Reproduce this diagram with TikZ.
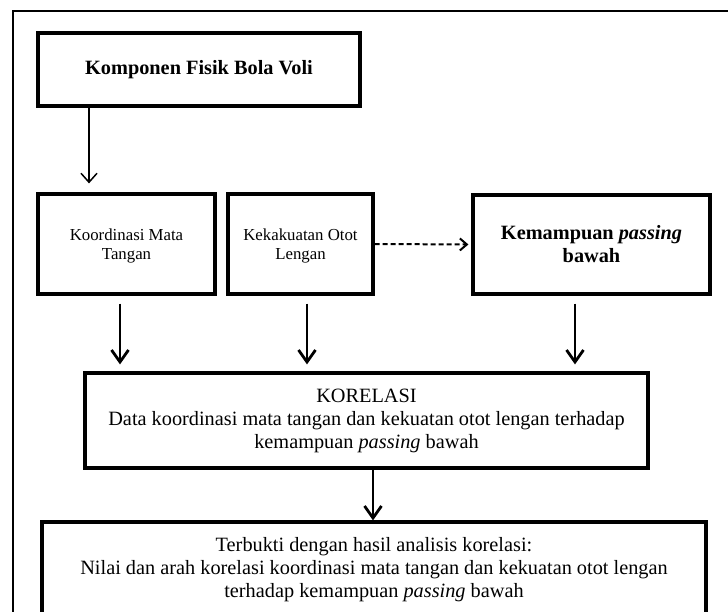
\documentclass[tikz,border=0pt]{standalone}
\usepackage{fontspec}
\setmainfont{Liberation Serif}
\usetikzlibrary{arrows.meta}
\begin{document}
\begin{tikzpicture}[x=1pt,y=-1pt,
  box/.style={draw, line width=3.2pt, rectangle, align=center, inner sep=0pt},
  thinarrow/.style={line width=1.5pt, -{Straight Barb[length=9pt,width=16pt,line width=1.5pt]}},
  thickarrow/.style={line width=2.8pt, -{Straight Barb[length=12pt,width=17pt,line width=2.8pt]}},
  dasharrow/.style={line width=2pt, dash pattern=on 5pt off 3pt, -{Straight Barb[length=7pt,width=12pt,line width=2pt]}},
  bigfont/.style={font=\fontsize{20.3}{23}\selectfont},
  smallfont/.style={font=\fontsize{16.8}{19.5}\selectfont, text depth=0pt}
]
\useasboundingbox (0,0) rectangle (728,612);
\clip (0,0) rectangle (728,612);
\draw[line width=1.6pt] (13,640) -- (13,11) -- (760,11);

\node[box, bigfont, minimum width=322pt, minimum height=73pt] (top) at (199,69.5) {\textbf{Komponen Fisik Bola Voli}};
\node[box, smallfont, minimum width=177pt, minimum height=100pt] (k1) at (126.5,244) {Koordinasi Mata\\Tangan};
\node[box, smallfont, minimum width=145pt, minimum height=100pt] (k2) at (300.5,244) {Kekakuatan Otot\\Lengan};
\node[box, bigfont, minimum width=237pt, minimum height=99pt] (k3) at (591.5,244.5) {\textbf{Kemampuan \textit{passing}}\\\textbf{bawah}};
\node[box, bigfont, minimum width=563pt, minimum height=95pt] (kor) at (366.5,420.5) {KORELASI\\Data koordinasi mata tangan dan kekuatan otot lengan terhadap\\kemampuan \textit{passing} bawah};
\node[box, bigfont, minimum width=664pt, minimum height=96pt] (res) at (374,570) {Terbukti dengan hasil analisis korelasi:\\Nilai dan arah korelasi koordinasi mata tangan dan kekuatan otot lengan\\terhadap kemampuan \textit{passing} bawah};

\draw[thinarrow, shorten >=9pt] (top.south -| 89,0) -- (k1.north -| 89,0);
\draw[thickarrow, shorten <=8pt, shorten >=7pt] (k1.south -| 120,0) -- (kor.north -| 120,0);
\draw[thickarrow, shorten <=8pt, shorten >=7pt] (k2.south -| 307,0) -- (kor.north -| 307,0);
\draw[thickarrow, shorten <=8pt, shorten >=7pt] (k3.south -| 575,0) -- (kor.north -| 575,0);
\draw[dasharrow, shorten >=3pt] (k2.east) -- (k3.west);
\draw[thickarrow, line width=2.2pt] (kor.south -| 373,0) -- (res.north -| 373,0);
\end{tikzpicture}
\end{document}
